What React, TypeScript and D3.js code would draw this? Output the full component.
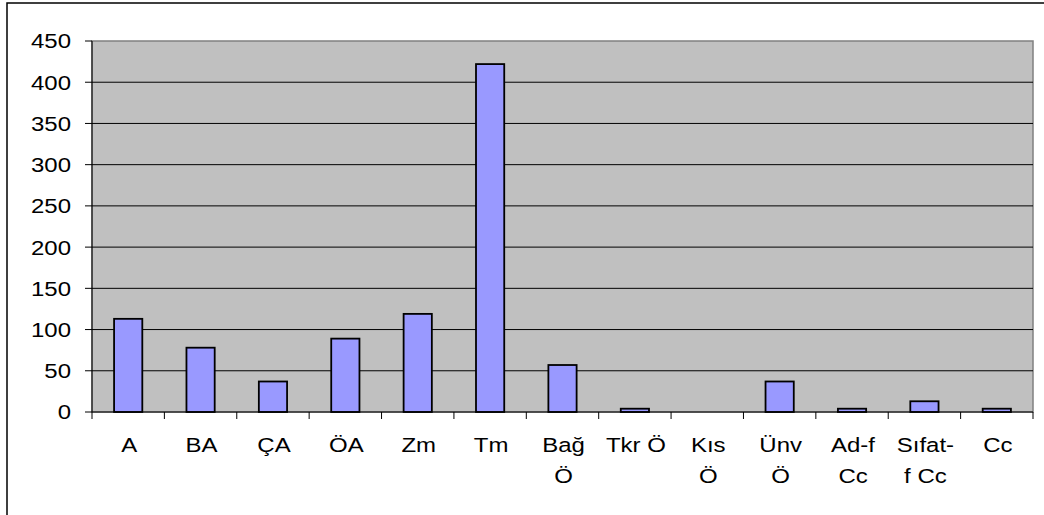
import * as d3 from "d3";

const categories = ["A", "BA", "ÇA", "ÖA", "Zm", "Tm", "Bağ\nÖ", "Tkr Ö", "Kıs\nÖ", "Ünv\nÖ", "Ad-f\nCc", "Sıfat-\nf Cc", "Cc"];
const values = [113, 78, 37, 89, 119, 422, 57, 4, 0, 37, 4, 13, 4];
const yTicks = [0, 50, 100, 150, 200, 250, 300, 350, 400, 450];

const W = 1044;
const H = 515;
const plot = { left: 92, top: 41, right: 1033, bottom: 412 };
const font = "'Liberation Sans', Arial, sans-serif";
const fs = 20.5;
const stretch = "scale(1.17,1)"; // the original text renders a bit wide

export default function App() {
  const x = d3.scaleBand<string>()
    .domain(categories)
    .range([plot.left, plot.right])
    .padding(0);
  const y = d3.scaleLinear()
    .domain([0, 450])
    .range([plot.bottom, plot.top]);
  const bw = x.bandwidth() * 0.39;

  return (
    <svg width={W} height={H} style={{ position: "absolute", left: 0, top: 0 }}>
      <rect x={0} y={0} width={W} height={H} fill="#fff" />
      {/* outer chart frame, runs off the right and bottom */}
      <rect x={7} y={3} width={W + 20} height={H + 20} fill="none" stroke="#000" strokeWidth={1.5} />

      <rect x={plot.left} y={plot.top} width={plot.right - plot.left} height={plot.bottom - plot.top}
        fill="#c0c0c0" stroke="#808080" strokeWidth={1.5} />

      {yTicks.filter(t => t > 0 && t < 450).map(t => (
        <line key={t} x1={plot.left} x2={plot.right} y1={y(t)} y2={y(t)} stroke="#000" strokeWidth={1} />
      ))}

      {categories.map((c, i) => (
        <rect key={c} x={x(c)! + (x.bandwidth() - bw) / 2} y={y(values[i])}
          width={bw} height={y(0) - y(values[i])}
          fill="#9999ff" stroke="#000" strokeWidth={1.8} />
      ))}

      {/* axes */}
      <line x1={plot.left} x2={plot.left} y1={plot.top} y2={plot.bottom} stroke="#000" strokeWidth={1} />
      <line x1={plot.left} x2={plot.right} y1={plot.bottom} y2={plot.bottom} stroke="#000" strokeWidth={1} />

      {yTicks.map(t => (
        <g key={t}>
          <line x1={plot.left - 7} x2={plot.left} y1={y(t)} y2={y(t)} stroke="#000" />
          <g transform={`translate(71,${y(t)}) ${stretch}`}>
            <text x={0} y={0} dy="0.36em" textAnchor="end" fontFamily={font} fontSize={fs} fill="#000">{t}</text>
          </g>
        </g>
      ))}

      {categories.map((c, i) => (
        <line key={"t" + i} x1={x(c)!} x2={x(c)!} y1={plot.bottom} y2={plot.bottom + 7} stroke="#000" />
      ))}
      <line x1={plot.right} x2={plot.right} y1={plot.bottom} y2={plot.bottom + 7} stroke="#000" />

      {categories.map(c => (
        <g key={"l" + c} transform={`translate(${x(c)! + x.bandwidth() / 2 + 1},452) ${stretch}`}>
          <text x={0} y={0} textAnchor="middle" fontFamily={font} fontSize={fs} fill="#000">
            {c.split("\n").map((ln, j) => (
              <tspan key={j} x={0} dy={j === 0 ? 0 : 31.5}>{ln}</tspan>
            ))}
          </text>
        </g>
      ))}
    </svg>
  );
}
